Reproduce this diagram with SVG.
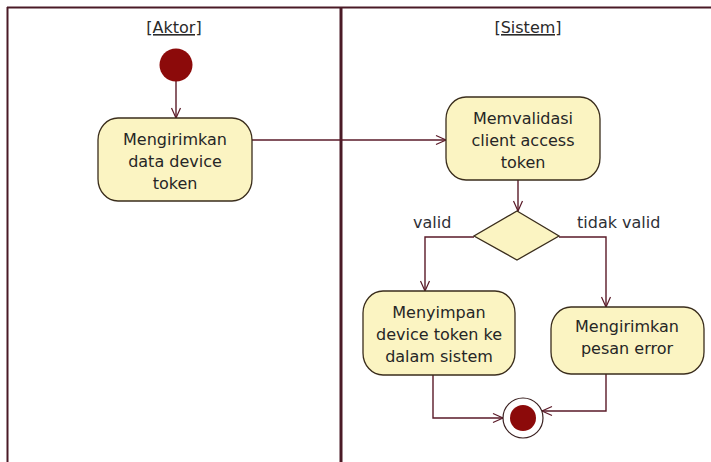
<svg xmlns="http://www.w3.org/2000/svg" width="711" height="462" viewBox="0 0 711 462">
  <style>
    .lane { stroke: #4a1a26; fill: none; }
    .lane-title { font-family: "DejaVu Sans", Verdana, sans-serif; font-size: 16px; fill: #2a2a2a; text-anchor: middle; text-decoration: underline; }
    .action { fill: #fbf4c2; stroke: #3a2d1c; stroke-width: 1.3; }
    .label { font-family: "DejaVu Sans", Verdana, sans-serif; font-size: 16px; fill: #262626; text-anchor: middle; }
    .guard { font-family: "DejaVu Sans", Verdana, sans-serif; font-size: 16px; fill: #2e3036; }
    .flow { stroke: #5a1a28; stroke-width: 1.4; fill: none; marker-end: url(#open-arrow); }
    .dot { fill: #8c0a0a; }
  </style>
  <defs>
    <marker id="open-arrow" markerWidth="14" markerHeight="14" refX="11" refY="6" orient="auto" markerUnits="userSpaceOnUse">
      <path d="M1,1.5 L11,6 L1,10.5" fill="none" stroke="#5a1a28" stroke-width="1.2"/>
    </marker>
  </defs>

  <rect width="711" height="462" fill="#ffffff"/>

  <!-- swimlane frame -->
  <g id="lanes">
    <line class="lane" x1="7" y1="7.5" x2="711" y2="7.5" stroke-width="2"/>
    <line class="lane" x1="7.5" y1="7" x2="7.5" y2="462" stroke-width="2"/>
    <line class="lane" x1="341" y1="7" x2="341" y2="462" stroke-width="3"/>
    <text class="lane-title" x="174" y="33">[Aktor]</text>
    <text class="lane-title" x="528" y="33">[Sistem]</text>
  </g>

  <!-- connectors -->
  <g id="connectors">
    <line class="flow" x1="176" y1="81" x2="176" y2="118"/>
    <line class="flow" x1="252" y1="140" x2="446" y2="140"/>
    <line class="flow" x1="518" y1="180" x2="518" y2="211"/>
    <polyline class="flow" points="474,237 425,237 425,291"/>
    <polyline class="flow" points="559,237 606,237 606,307"/>
    <polyline class="flow" points="433,375 433,418 503,418"/>
    <polyline class="flow" points="606,374 606,411 542,411"/>
  </g>

  <g id="start">
    <circle class="dot" cx="176" cy="65" r="16.5"/>
  </g>

  <g id="kirim-token">
    <rect class="action" x="98" y="118" width="154" height="83" rx="20" ry="22"/>
    <text class="label" x="175" y="145">Mengirimkan</text>
    <text class="label" x="175" y="167">data device</text>
    <text class="label" x="175" y="189">token</text>
  </g>

  <g id="validasi">
    <rect class="action" x="446" y="97" width="154" height="83" rx="20" ry="22"/>
    <text class="label" x="523" y="124">Memvalidasi</text>
    <text class="label" x="523" y="146">client access</text>
    <text class="label" x="523" y="168">token</text>
  </g>

  <g id="keputusan">
    <polygon class="action" points="517,211 559,236 517,260 474,236"/>
    <text class="guard" x="413" y="228">valid</text>
    <text class="guard" x="577" y="228">tidak valid</text>
  </g>

  <g id="simpan-token">
    <rect class="action" x="363" y="291" width="152" height="84" rx="20" ry="22"/>
    <text class="label" x="439" y="318">Menyimpan</text>
    <text class="label" x="439" y="340">device token ke</text>
    <text class="label" x="439" y="362">dalam sistem</text>
  </g>

  <g id="kirim-error">
    <rect class="action" x="551" y="307" width="153" height="67" rx="20" ry="22"/>
    <text class="label" x="627" y="332">Mengirimkan</text>
    <text class="label" x="627" y="354">pesan error</text>
  </g>

  <g id="end">
    <circle cx="523" cy="418" r="20" fill="#ffffff" stroke="#3a2020" stroke-width="1.2"/>
    <circle class="dot" cx="523" cy="418" r="13"/>
  </g>
</svg>
